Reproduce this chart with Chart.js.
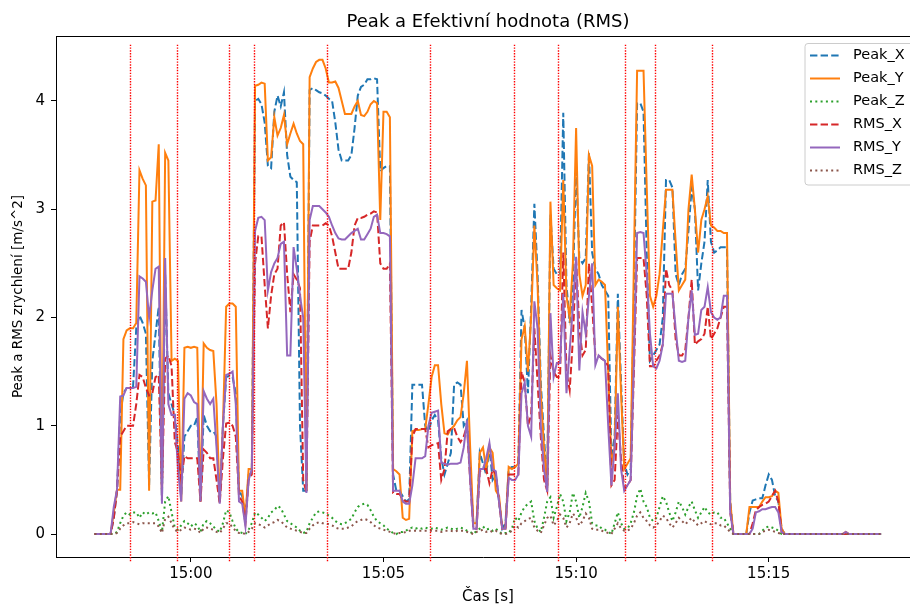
<!DOCTYPE html>
<html>
<head>
<meta charset="utf-8">
<title>Peak a Efektivní hodnota (RMS)</title>
<script src="https://cdn.jsdelivr.net/npm/chart.js@4/dist/chart.umd.min.js"></script>
<style>
  html, body { margin: 0; padding: 0; background: #fff; overflow: hidden; }
</style>
</head>
<body>
<canvas id="chart" width="910" height="606"></canvas>
<script>
// Sampling: one record every 5 s starting at 14:57:30
const START_TIME = '14:57:30';
const STEP_SECONDS = 5;

// Axis range and ticks
const X_MIN_TIME = '14:56:30';
const X_MAX_TIME = '15:18:40';
const X_TICKS = ['15:00', '15:05', '15:10', '15:15'];
const Y_MIN = -0.212;
const Y_MAX = 4.6;
const Y_TICKS = [0, 1, 2, 3, 4];

// Marked events (red dotted vertical lines)
const EVENT_TIMES = ['14:58:25', '14:59:38', '15:00:59', '15:01:39', '15:03:32', '15:06:12',
                     '15:08:23', '15:09:32', '15:11:16', '15:12:03', '15:13:31'];
const EVENT_Y_TOP = 4.52;
const EVENT_Y_BOTTOM = -0.26;

// Series values [m/s^2], 246 samples each
const peakX = [
  0, 0, 0, 0, 0, 0, 0.15, 0.4, 1.1, 1.3,
  1.35, 1.35, 1.36, 1.9, 2.02, 1.95, 1.85, 0.45, 1.6, 1.85,
  2.1, 0.3, 2.4, 1.3, 1.2, 1.1, 0.8, 0.35, 0.9, 0.95,
  1.0, 1.0, 1.08, 0.3, 1.1, 1.0, 0.95, 0.95, 0.9, 0.3,
  1.0, 1.45, 1.46, 1.45, 1.3, 0.4, 0.35, 0.15, 0.55, 0.6,
  4.0, 4.02, 3.97, 3.8, 3.4, 3.38, 3.9, 4.05, 3.95, 4.08,
  3.5, 3.3, 3.27, 3.25, 1.0, 0.4, 0.4, 4.1, 4.12, 4.1,
  4.08, 4.07, 4.05, 4.02, 4.0, 3.8, 3.55, 3.45, 3.45, 3.45,
  3.5, 3.75, 4.05, 4.13, 4.15, 4.2, 4.2, 4.21, 4.2, 3.35,
  3.38, 3.4, 3.4, 0.55, 0.4, 0.4, 0.35, 0.3, 0.32, 1.38,
  1.38, 1.38, 1.38, 1.0, 0.95, 1.05, 1.1, 1.05, 0.7, 0.55,
  0.65, 0.75, 1.38, 1.4, 1.38, 1.0, 1.05, 0.6, 0.1, 0.1,
  0.75, 0.65, 0.55, 0.8, 0.5, 0.55, 0.3, 0.05, 0.1, 0.6,
  0.62, 0.62, 0.65, 2.07, 1.9, 1.3, 2.1, 3.05, 2.4, 1.4,
  0.9, 0.42, 2.95, 2.45, 2.4, 2.4, 3.89, 2.3, 1.95, 2.3,
  3.4, 2.55, 2.5, 2.55, 3.52, 2.6, 2.45, 2.4, 2.3, 2.25,
  2.2, 0.7, 0.9, 2.22, 1.4, 0.65, 0.55, 0.6, 2.2, 3.98,
  3.98, 3.9, 2.6, 1.6, 1.65, 1.7, 1.75, 2.0, 3.27, 3.27,
  3.2, 2.4, 2.3, 2.4, 2.45, 2.8, 3.2, 3.0, 2.25, 2.5,
  2.7, 3.27, 2.7, 2.6, 2.62, 2.65, 2.65, 2.65, 0.3, 0,
  0, 0, 0, 0, 0.2, 0.31, 0.32, 0.33, 0.33, 0.45,
  0.55, 0.5, 0.35, 0.3, 0.05, 0, 0, 0, 0, 0,
  0, 0, 0, 0, 0, 0, 0, 0, 0, 0,
  0, 0, 0, 0, 0, 0, 0, 0, 0, 0,
  0, 0, 0, 0, 0, 0
];

const peakY = [
  0, 0, 0, 0, 0, 0, 0.2, 0.41, 0.41, 1.8,
  1.88, 1.9, 1.9, 1.95, 3.36, 3.28, 3.22, 0.4, 3.07, 3.08,
  3.6, 0.35, 3.52, 3.45, 1.6, 1.62, 1.6, 0.3, 1.72, 1.73,
  1.72, 1.73, 1.72, 0.3, 1.76, 1.72, 1.7, 1.69, 1.2, 0.3,
  1.0, 2.1, 2.13, 2.13, 2.1, 0.4, 0.4, 0.15, 0.6, 0.6,
  4.14, 4.15, 4.17, 4.16, 3.45, 3.48, 3.85, 3.68, 3.75, 3.87,
  3.6, 3.7, 3.79, 3.7, 3.63, 3.6, 0.4, 4.22, 4.3, 4.36,
  4.38, 4.38, 4.3, 4.17, 4.17, 4.18, 4.12, 4.0, 3.88, 3.88,
  3.88, 3.95, 4.0, 3.87, 3.86, 3.9, 3.97, 4.0, 3.98, 2.9,
  3.9, 3.9, 3.85, 0.6, 0.58, 0.55, 0.15, 0.13, 0.14, 0.95,
  0.96, 0.96, 0.97, 0.97, 1.2, 1.45, 1.56, 1.56, 1.2, 0.93,
  0.92, 0.97, 1.0, 1.05, 1.08, 1.3, 1.6, 0.8, 0.1, 0.1,
  0.75, 0.8, 0.6, 0.8, 0.75, 0.4, 0.35, 0.05, 0.05, 0.62,
  0.6, 0.62, 0.65, 1.8, 1.92, 1.5, 2.0, 2.85, 2.3, 1.3,
  0.8, 0.42, 3.07, 2.3, 2.27, 2.25, 3.27, 2.2, 2.0, 2.5,
  3.75, 2.4, 2.2, 2.3, 3.5, 3.4, 2.3, 2.35, 2.33, 2.3,
  1.5, 0.65, 0.8, 2.1, 1.3, 0.6, 0.65, 0.7, 2.5, 4.28,
  4.28, 4.28, 3.2, 2.2, 2.1, 2.2, 2.4, 2.8, 3.18, 3.18,
  3.18, 2.7, 2.25, 2.3, 2.35, 3.0, 3.32, 3.0, 2.6, 2.9,
  3.0, 3.12, 2.85, 2.83, 2.8, 2.8, 2.78, 2.78, 0.3, 0,
  0, 0, 0, 0, 0.25, 0.25, 0.25, 0.25, 0.3, 0.34,
  0.34, 0.35, 0.4, 0.38, 0.05, 0, 0, 0, 0, 0,
  0, 0, 0, 0, 0, 0, 0, 0, 0, 0,
  0, 0, 0, 0, 0.02, 0, 0, 0, 0, 0,
  0, 0, 0, 0, 0, 0
];

const peakZ = [
  0, 0, 0, 0, 0, 0, 0, 0.02, 0.1, 0.17,
  0.2, 0.18, 0.2, 0.2, 0.15, 0.2, 0.18, 0.2, 0.19, 0.2,
  0.12, 0.02, 0.3, 0.35, 0.2, 0.06, 0.04, 0.08, 0.12, 0.1,
  0.07, 0.1, 0.08, 0.02, 0.1, 0.12, 0.1, 0.07, 0.04, 0.02,
  0.1, 0.22, 0.2, 0.12, 0.05, 0.02, 0.01, 0, 0.04, 0.1,
  0.2, 0.18, 0.15, 0.12, 0.15, 0.2, 0.22, 0.26, 0.24, 0.18,
  0.12, 0.1, 0.08, 0.06, 0.03, 0.01, 0.02, 0.1, 0.15, 0.2,
  0.21, 0.2, 0.19, 0.17, 0.15, 0.12, 0.1, 0.09, 0.1, 0.12,
  0.14, 0.2, 0.25, 0.27, 0.28, 0.27, 0.22, 0.16, 0.12, 0.1,
  0.08, 0.05, 0.03, 0.01, 0, 0.02, 0.02, 0.03, 0.05, 0.06,
  0.05, 0.06, 0.05, 0.06, 0.05, 0.05, 0.06, 0.05, 0.04, 0.05,
  0.06, 0.05, 0.04, 0.05, 0.06, 0.05, 0.03, 0.02, 0, 0.03,
  0.05, 0.07, 0.04, 0.05, 0.03, 0.05, 0.02, 0, 0.01, 0.01,
  0.05, 0.15, 0.12, 0.2, 0.25, 0.28, 0.3, 0.12, 0.05, 0.02,
  0.15, 0.3, 0.34, 0.15, 0.25, 0.37, 0.3, 0.12, 0.2, 0.38,
  0.3, 0.15, 0.25, 0.38, 0.3, 0.1, 0.08, 0.08, 0.05, 0.04,
  0.02, 0, 0.1, 0.2, 0.1, 0.05, 0.05, 0.1, 0.2, 0.35,
  0.42, 0.3, 0.25, 0.15, 0.12, 0.15, 0.25, 0.35, 0.3, 0.2,
  0.12, 0.2, 0.3, 0.25, 0.18, 0.25, 0.3, 0.22, 0.15, 0.2,
  0.25, 0.2, 0.18, 0.2, 0.2, 0.15, 0.15, 0.1, 0.05, 0,
  0, 0, 0, 0, 0, 0, 0, 0, 0.03, 0.06,
  0.07, 0.06, 0.05, 0.03, 0, 0, 0, 0, 0, 0,
  0, 0, 0, 0, 0, 0, 0, 0, 0, 0,
  0, 0, 0, 0, 0, 0, 0, 0, 0, 0,
  0, 0, 0, 0, 0, 0
];

const rmsX = [
  0, 0, 0, 0, 0, 0, 0.15, 0.4, 0.9, 0.95,
  1.0, 1.0, 1.0, 1.2, 1.47, 1.45, 1.35, 1.28, 1.3, 1.45,
  1.47, 0.4, 1.62, 1.65, 1.55, 0.85, 0.75, 0.5, 0.72, 0.7,
  0.7, 0.7, 0.7, 0.3, 0.78, 0.75, 0.7, 0.7, 0.5, 0.28,
  0.7, 1.02, 1.03, 1.0, 0.9, 0.35, 0.3, 0.1, 0.5, 0.55,
  2.5, 2.75, 2.75, 2.3, 1.9, 2.2, 2.4, 2.45, 2.85, 2.88,
  2.4, 2.05, 2.4, 2.35, 2.27, 0.5, 0.38, 2.7, 2.85, 2.85,
  2.85, 2.85, 2.87, 2.85, 2.75, 2.6, 2.45, 2.45, 2.45, 2.45,
  2.6, 2.85, 2.92, 2.92, 2.93, 2.95, 2.96, 2.98, 2.97, 2.5,
  2.45, 2.45, 2.5, 0.38, 0.37, 0.37, 0.32, 0.3, 0.3, 0.9,
  0.97, 0.97, 0.97, 0.97, 0.8, 0.82, 0.83, 0.84, 0.5, 0.6,
  0.95, 0.97, 0.98, 0.9, 0.85, 0.9, 1.0, 0.5, 0.05, 0.05,
  0.58, 0.6, 0.6, 0.47, 0.6, 0.55, 0.3, 0.05, 0.05, 0.55,
  0.55, 0.55, 0.55, 1.5, 1.4, 1.0, 1.1, 1.9, 1.4, 0.9,
  0.5, 0.4, 1.65, 1.5, 1.45, 1.45, 2.6, 1.5, 1.33, 1.8,
  2.55, 1.9, 1.65, 1.7, 2.5, 2.1, 1.65, 1.65, 1.62, 1.6,
  1.55, 0.45, 0.5, 1.1, 0.7, 0.42, 0.45, 0.5, 1.5, 2.55,
  2.55, 2.55, 2.2, 1.55, 1.55, 1.6, 1.65, 1.75, 2.45, 2.3,
  2.25, 1.8, 1.65, 1.65, 1.7, 2.0, 2.35, 1.75, 1.78, 1.8,
  1.85, 2.1, 1.8, 1.85, 1.9, 2.0, 2.1, 2.1, 0.2, 0,
  0, 0, 0, 0, 0, 0.1, 0.22, 0.25, 0.27, 0.28,
  0.3, 0.35, 0.4, 0.3, 0.02, 0, 0, 0, 0, 0,
  0, 0, 0, 0, 0, 0, 0, 0, 0, 0,
  0, 0, 0, 0, 0, 0, 0, 0, 0, 0,
  0, 0, 0, 0, 0, 0
];

const rmsY = [
  0, 0, 0, 0, 0, 0, 0.25, 0.41, 1.27, 1.28,
  1.35, 1.35, 1.35, 1.36, 2.38, 2.36, 2.33, 2.0, 2.25, 2.45,
  2.47, 0.28, 2.55, 1.2, 1.1, 1.1, 0.6, 0.3, 1.25, 1.3,
  1.28, 1.22, 1.2, 0.3, 1.32, 1.25, 1.2, 1.25, 0.8, 0.28,
  1.0, 1.47, 1.48, 1.5, 1.2, 0.3, 0.28, 0.07, 0.5, 0.6,
  2.8, 2.92, 2.93, 2.9, 2.25, 2.42, 2.5, 2.55, 2.68, 2.7,
  1.65, 1.65, 2.65, 2.45, 2.2, 2.0, 0.38, 2.9, 3.03, 3.03,
  3.03, 3.0, 2.97, 2.93, 2.85, 2.78, 2.73, 2.72, 2.72, 2.75,
  2.78, 2.8, 2.82, 2.72, 2.72, 2.77, 2.82, 2.93, 2.95, 2.78,
  2.78, 2.77, 2.75, 0.4, 0.4, 0.4, 0.3, 0.28, 0.28, 0.45,
  0.7, 0.7, 0.7, 0.72, 1.0, 1.12, 1.13, 1.14, 0.66, 0.65,
  0.64, 0.65, 0.65, 0.65, 0.66, 0.8, 1.05, 0.5, 0.05, 0.05,
  0.6, 0.6, 0.7, 0.84, 0.6, 0.58, 0.3, 0.05, 0.05, 0.52,
  0.5, 0.5, 0.55, 1.3, 1.4, 1.0, 0.9, 2.15, 1.9, 1.0,
  0.6, 0.39, 2.04, 1.45, 1.58, 1.58, 2.22, 1.3, 1.7, 2.1,
  2.56, 1.51, 2.05, 1.85, 2.2, 2.5, 1.56, 1.65, 1.62, 1.6,
  1.0, 0.45, 0.8, 1.3, 0.6, 0.4, 0.45, 0.5, 1.6, 2.78,
  2.79, 2.78, 2.4, 1.85, 1.55, 1.53, 1.6, 1.75, 2.22, 2.22,
  2.22, 1.9, 1.6, 1.59, 1.6, 2.0, 2.25, 1.84, 1.85, 2.07,
  2.1, 2.28, 2.05, 2.0, 1.98, 2.0, 2.2, 2.2, 0.2, 0,
  0, 0, 0, 0, 0, 0.05, 0.2, 0.21, 0.23, 0.23,
  0.24, 0.25, 0.25, 0.2, 0.02, 0, 0, 0, 0, 0,
  0, 0, 0, 0, 0, 0, 0, 0, 0, 0,
  0, 0, 0, 0, 0.02, 0, 0, 0, 0, 0,
  0, 0, 0, 0, 0, 0
];

const rmsZ = [
  0, 0, 0, 0, 0, 0, 0, 0.01, 0.05, 0.08,
  0.1, 0.1, 0.11, 0.1, 0.09, 0.1, 0.1, 0.1, 0.1, 0.1,
  0.07, 0.01, 0.14, 0.16, 0.1, 0.04, 0.02, 0.04, 0.06, 0.05,
  0.04, 0.05, 0.04, 0.01, 0.05, 0.06, 0.05, 0.04, 0.02, 0.01,
  0.05, 0.1, 0.1, 0.06, 0.03, 0.01, 0.01, 0, 0.02, 0.05,
  0.1, 0.09, 0.08, 0.06, 0.08, 0.1, 0.11, 0.13, 0.12, 0.09,
  0.06, 0.05, 0.04, 0.03, 0.02, 0.01, 0.01, 0.05, 0.08, 0.1,
  0.11, 0.1, 0.1, 0.09, 0.08, 0.06, 0.05, 0.05, 0.05, 0.06,
  0.07, 0.1, 0.12, 0.13, 0.14, 0.13, 0.11, 0.08, 0.06, 0.05,
  0.04, 0.03, 0.02, 0.01, 0, 0.01, 0.01, 0.02, 0.03, 0.03,
  0.03, 0.03, 0.03, 0.03, 0.03, 0.03, 0.03, 0.03, 0.02, 0.03,
  0.03, 0.03, 0.02, 0.03, 0.03, 0.03, 0.02, 0.01, 0, 0.02,
  0.03, 0.04, 0.02, 0.03, 0.02, 0.03, 0.01, 0, 0, 0.01,
  0.03, 0.08, 0.06, 0.1, 0.12, 0.14, 0.15, 0.06, 0.03, 0.01,
  0.08, 0.15, 0.17, 0.08, 0.12, 0.18, 0.15, 0.06, 0.1, 0.19,
  0.15, 0.08, 0.12, 0.19, 0.15, 0.05, 0.04, 0.04, 0.03, 0.02,
  0.01, 0, 0.05, 0.1, 0.05, 0.03, 0.03, 0.05, 0.1, 0.17,
  0.2, 0.15, 0.12, 0.08, 0.06, 0.08, 0.12, 0.17, 0.15, 0.1,
  0.06, 0.1, 0.15, 0.12, 0.09, 0.12, 0.15, 0.11, 0.08, 0.1,
  0.12, 0.1, 0.09, 0.1, 0.1, 0.08, 0.08, 0.05, 0.02, 0,
  0, 0, 0, 0, 0, 0, 0, 0, 0.02, 0.03,
  0.04, 0.03, 0.02, 0.01, 0, 0, 0, 0, 0, 0,
  0, 0, 0, 0, 0, 0, 0, 0, 0, 0,
  0, 0, 0, 0, 0, 0, 0, 0, 0, 0,
  0, 0, 0, 0, 0, 0
];

const SERIES_NAMES = ['Peak_X', 'Peak_Y', 'Peak_Z', 'RMS_X', 'RMS_Y', 'RMS_Z'];
const SERIES_VALUES = [peakX, peakY, peakZ, rmsX, rmsY, rmsZ];
const SERIES_COLORS = ['#1f77b4', '#ff7f0e', '#2ca02c', '#d62728', '#9467bd', '#8c564b'];

const DASHED = [7.4, 3.2];
const DOTTED = [2, 3.3];
const SERIES_DASH = [DASHED, [], DOTTED, DASHED, [], DOTTED];

const LINE_WIDTH = 2;
const FONT = "'DejaVu Sans', sans-serif";

/**
 * 'HH:MM' or 'HH:MM:SS' -> seconds since midnight
 */
function toSeconds(t) {
  const p = t.split(':').map(Number);
  return p[0] * 3600 + p[1] * 60 + (p[2] || 0);
}

function formatHM(sec) {
  const h = Math.floor(sec / 3600);
  const m = Math.round((sec - h * 3600) / 60);
  return String(h).padStart(2, '0') + ':' + String(m).padStart(2, '0');
}

const startSec = toSeconds(START_TIME);

const datasets = SERIES_NAMES.map((name, k) => ({
  label: name,
  data: SERIES_VALUES[k].map((v, i) => ({ x: startSec + i * STEP_SECONDS, y: v })),
  borderColor: SERIES_COLORS[k],
  backgroundColor: SERIES_COLORS[k],
  borderDash: SERIES_DASH[k],
  borderWidth: LINE_WIDTH,
  pointRadius: 0,
  tension: 0,
  fill: false,
  order: SERIES_NAMES.length - k   // later series drawn on top
}));

/**
 * Extras: top spine, event lines, title, axis labels and legend box
 */
const decorPlugin = {
  id: 'decor',
  afterDatasetsDraw(chart) {
    const { ctx, scales: { x, y } } = chart;
    ctx.save();
    ctx.strokeStyle = '#ff0000';
    ctx.lineWidth = 1.4;
    ctx.setLineDash([1.4, 1.4]);
    EVENT_TIMES.forEach(t => {
      const px = Math.round(x.getPixelForValue(toSeconds(t))) + 0.5;
      ctx.beginPath();
      ctx.moveTo(px, y.getPixelForValue(EVENT_Y_TOP));
      ctx.lineTo(px, y.getPixelForValue(EVENT_Y_BOTTOM));
      ctx.stroke();
    });
    ctx.restore();
  },
  afterDraw(chart) {
    const { ctx, chartArea } = chart;
    ctx.save();

    // top spine
    ctx.strokeStyle = '#000';
    ctx.lineWidth = 1;
    ctx.beginPath();
    ctx.moveTo(chartArea.left, chartArea.top + 0.5);
    ctx.lineTo(chartArea.right, chartArea.top + 0.5);
    ctx.stroke();

    // title
    ctx.fillStyle = '#000';
    ctx.textAlign = 'center';
    ctx.textBaseline = 'alphabetic';
    ctx.font = '18px ' + FONT;
    ctx.fillText('Peak a Efektivní hodnota (RMS)', 488, 27);

    // x label
    ctx.font = '15px ' + FONT;
    ctx.textBaseline = 'middle';
    ctx.fillText('Čas [s]', 488, 597);

    // y label
    ctx.save();
    ctx.translate(18, (chartArea.top + chartArea.bottom) / 2);
    ctx.rotate(-Math.PI / 2);
    ctx.font = '13.5px ' + FONT;
    ctx.fillText('Peak a RMS zrychlení [m/s^2]', 0, 0);
    ctx.restore();

    // legend
    const lx = 805, ly = 43.5, lw = 130, lh = 141.5, r = 3;
    ctx.fillStyle = 'rgba(255,255,255,0.8)';
    ctx.strokeStyle = '#cccccc';
    ctx.lineWidth = 1;
    ctx.beginPath();
    ctx.moveTo(lx + r, ly);
    ctx.lineTo(lx + lw - r, ly);
    ctx.arcTo(lx + lw, ly, lx + lw, ly + r, r);
    ctx.lineTo(lx + lw, ly + lh - r);
    ctx.arcTo(lx + lw, ly + lh, lx + lw - r, ly + lh, r);
    ctx.lineTo(lx + r, ly + lh);
    ctx.arcTo(lx, ly + lh, lx, ly + lh - r, r);
    ctx.lineTo(lx, ly + r);
    ctx.arcTo(lx, ly, lx + r, ly, r);
    ctx.closePath();
    ctx.fill();
    ctx.stroke();

    ctx.font = '14.5px ' + FONT;
    ctx.textAlign = 'left';
    ctx.textBaseline = 'middle';
    SERIES_NAMES.forEach((name, k) => {
      const rowY = 55.5 + k * 23;
      ctx.strokeStyle = SERIES_COLORS[k];
      ctx.lineWidth = LINE_WIDTH;
      ctx.setLineDash(SERIES_DASH[k]);
      ctx.beginPath();
      ctx.moveTo(810, rowY);
      ctx.lineTo(840, rowY);
      ctx.stroke();
      ctx.setLineDash([]);
      ctx.fillStyle = '#000';
      ctx.fillText(name, 853, rowY);
    });

    ctx.restore();
  }
};

const ctx = document.getElementById('chart').getContext('2d');
new Chart(ctx, {
  type: 'line',
  data: { datasets: datasets },
  options: {
    responsive: false,
    animation: false,
    events: [],
    layout: { padding: { top: 36, left: 0, right: 0, bottom: 0 } },
    plugins: {
      legend: { display: false },
      title: { display: false },
      tooltip: { enabled: false }
    },
    scales: {
      x: {
        type: 'linear',
        min: toSeconds(X_MIN_TIME),
        max: toSeconds(X_MAX_TIME),
        afterBuildTicks: s => { s.ticks = X_TICKS.map(t => ({ value: toSeconds(t) })); },
        afterFit: s => { s.height = 49; },
        ticks: {
          autoSkip: false,
          maxRotation: 0,
          padding: 3,
          color: '#000',
          font: { family: FONT, size: 15 },
          callback: v => formatHM(v)
        },
        grid: { drawOnChartArea: false, drawTicks: true, tickLength: 5, tickColor: '#000', tickWidth: 1 },
        border: { display: true, color: '#000', width: 1 }
      },
      y: {
        type: 'linear',
        min: Y_MIN,
        max: Y_MAX,
        afterBuildTicks: s => { s.ticks = Y_TICKS.map(v => ({ value: v })); },
        afterFit: s => { s.width = 56; },
        ticks: {
          padding: 6,
          color: '#000',
          font: { family: FONT, size: 15 }
        },
        grid: { drawOnChartArea: false, drawTicks: true, tickLength: 5, tickColor: '#000', tickWidth: 1 },
        border: { display: true, color: '#000', width: 1 }
      }
    }
  },
  plugins: [decorPlugin]
});
</script>
</body>
</html>
